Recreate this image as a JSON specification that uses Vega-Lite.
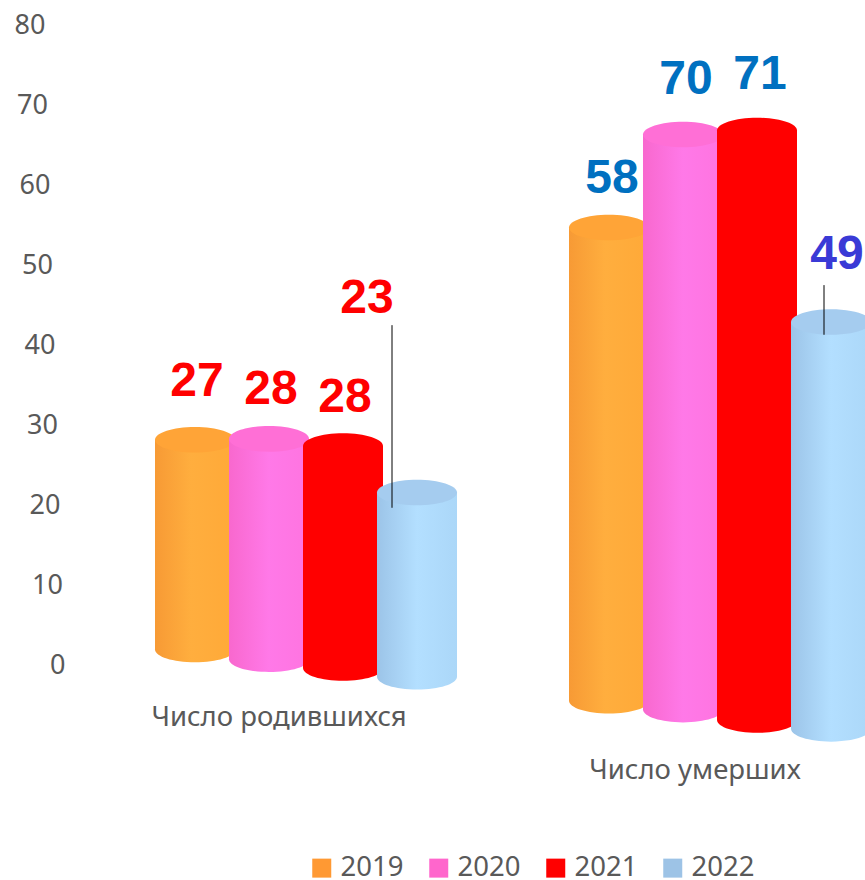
{
"$schema":"https://vega.github.io/schema/vega-lite/v6.json",
"autosize":{"type":"none"},
"padding":{"left":60,"top":24,"right":0,"bottom":15},
"width":805,"height":841,
"background":"white",
"config":{"view":{"stroke":null},"font":"Noto Sans"},
"data":{"values":[
{"group":"Число родившихся","year":"2019","value":27,"top":28.1,"base":1.9,"labelAt":35.5},
{"group":"Число родившихся","year":"2020","value":28,"top":28.2,"base":0.7,"labelAt":34.5},
{"group":"Число родившихся","year":"2021","value":28,"top":27.3,"base":-0.4,"labelAt":33.6},
{"group":"Число родившихся","year":"2022","value":23,"top":21.5,"base":-1.5,"labelAt":45.9,"leaderTop":42.4,"leaderEnd":19.6},
{"group":"Число умерших","year":"2019","value":58,"top":54.6,"base":-4.5,"labelAt":60.9},
{"group":"Число умерших","year":"2020","value":70,"top":66.2,"base":-5.6,"labelAt":73.3},
{"group":"Число умерших","year":"2021","value":71,"top":66.7,"base":-6.9,"labelAt":73.9},
{"group":"Число умерших","year":"2022","value":49,"top":42.8,"base":-8.0,"labelAt":51.4,"leaderTop":47.4,"leaderEnd":41.2}
]},
"encoding":{
"x":{"field":"group","type":"nominal","scale":{"domain":["Число родившихся","Число умерших"],"range":[39,867],"paddingInner":0,"paddingOuter":0},"axis":null},
"xOffset":{"field":"year","type":"nominal","scale":{"domain":["2019","2020","2021","2022"],"range":[59,355],"paddingInner":0,"paddingOuter":0}}
},
"layer":[
{"mark":{"type":"point","filled":true,"opacity":0,"size":100},"encoding":{"y":{"field":"base","type":"quantitative","scale":{"domain":[-25,80],"nice":false},"axis":{"values":[0,10,20,30,40,50,60,70,80],"title":null,"grid":false,"domain":false,"ticks":false,"labelPadding":-5,"labelFontSize":27,"labelColor":"#595959","labelFont":"Noto Sans","encoding":{"labels":{"dx":{"value":{"expr":"-0.25*datum.value"}},"dy":{"value":1}}}}},
"color":{"field":"year","type":"nominal","scale":{"domain":["2019","2020","2021","2022"],"range":["#FF9933","#FF66CC","#FF0000","#9DC3E6"]},
"legend":{"orient":"none","legendX":248,"legendY":830,"direction":"horizontal","title":null,"symbolType":"square","symbolSize":361,"symbolStrokeWidth":0,"labelFontSize":27.5,"labelColor":"#595959","labelFont":"Noto Sans","columnPadding":21,"labelOffset":5,"symbolOpacity":1}}}},
{"transform":[{"filter":"datum.year=='2019'"}],"layer":[
{"mark":{"type":"point","filled":true,"opacity":1,"size":6400,"fill":{"x1":0,"y1":0,"x2":1,"y2":0,"gradient":"linear","stops":[{"offset":0,"color":"#F79A35"},{"offset":0.45,"color":"#FFAE3E"},{"offset":1,"color":"#FFA938"}]},"shape":"M-1,0A1,0.32,0,1,1,1,0A1,0.32,0,1,1,-1,0Z"},"encoding":{"y":{"field":"base","type":"quantitative"}}},
{"mark":{"type":"bar","size":80,"fill":{"x1":0,"y1":0,"x2":1,"y2":0,"gradient":"linear","stops":[{"offset":0,"color":"#F79A35"},{"offset":0.45,"color":"#FFAE3E"},{"offset":1,"color":"#FFA938"}]}},"encoding":{"y":{"field":"top","type":"quantitative"},"y2":{"field":"base"}}},
{"mark":{"type":"point","filled":true,"opacity":1,"size":6400,"fill":"#FFA437","shape":"M-1,0A1,0.32,0,1,1,1,0A1,0.32,0,1,1,-1,0Z"},"encoding":{"y":{"field":"top","type":"quantitative"}}}
]},
{"transform":[{"filter":"datum.year=='2020'"}],"layer":[
{"mark":{"type":"point","filled":true,"opacity":1,"size":6400,"fill":{"x1":0,"y1":0,"x2":1,"y2":0,"gradient":"linear","stops":[{"offset":0,"color":"#F868CE"},{"offset":0.5,"color":"#FF79E8"},{"offset":1,"color":"#FF74E0"}]},"shape":"M-1,0A1,0.32,0,1,1,1,0A1,0.32,0,1,1,-1,0Z"},"encoding":{"y":{"field":"base","type":"quantitative"}}},
{"mark":{"type":"bar","size":80,"fill":{"x1":0,"y1":0,"x2":1,"y2":0,"gradient":"linear","stops":[{"offset":0,"color":"#F868CE"},{"offset":0.5,"color":"#FF79E8"},{"offset":1,"color":"#FF74E0"}]}},"encoding":{"y":{"field":"top","type":"quantitative"},"y2":{"field":"base"}}},
{"mark":{"type":"point","filled":true,"opacity":1,"size":6400,"fill":"#FF6FD6","shape":"M-1,0A1,0.32,0,1,1,1,0A1,0.32,0,1,1,-1,0Z"},"encoding":{"y":{"field":"top","type":"quantitative"}}}
]},
{"transform":[{"filter":"datum.year=='2021'"}],"layer":[
{"mark":{"type":"point","filled":true,"opacity":1,"size":6400,"fill":"#FF0000","shape":"M-1,0A1,0.32,0,1,1,1,0A1,0.32,0,1,1,-1,0Z"},"encoding":{"y":{"field":"base","type":"quantitative"}}},
{"mark":{"type":"bar","size":80,"fill":"#FF0000"},"encoding":{"y":{"field":"top","type":"quantitative"},"y2":{"field":"base"}}},
{"mark":{"type":"point","filled":true,"opacity":1,"size":6400,"fill":"#FF0000","shape":"M-1,0A1,0.32,0,1,1,1,0A1,0.32,0,1,1,-1,0Z"},"encoding":{"y":{"field":"top","type":"quantitative"}}}
]},
{"transform":[{"filter":"datum.year=='2022'"}],"layer":[
{"mark":{"type":"point","filled":true,"opacity":1,"size":6400,"fill":{"x1":0,"y1":0,"x2":1,"y2":0,"gradient":"linear","stops":[{"offset":0,"color":"#9CC4E8"},{"offset":0.5,"color":"#B3DFFF"},{"offset":1,"color":"#ABD7F8"}]},"shape":"M-1,0A1,0.32,0,1,1,1,0A1,0.32,0,1,1,-1,0Z"},"encoding":{"y":{"field":"base","type":"quantitative"}}},
{"mark":{"type":"bar","size":80,"fill":{"x1":0,"y1":0,"x2":1,"y2":0,"gradient":"linear","stops":[{"offset":0,"color":"#9CC4E8"},{"offset":0.5,"color":"#B3DFFF"},{"offset":1,"color":"#ABD7F8"}]}},"encoding":{"y":{"field":"top","type":"quantitative"},"y2":{"field":"base"}}},
{"mark":{"type":"point","filled":true,"opacity":1,"size":6400,"fill":"#A5CCEF","shape":"M-1,0A1,0.32,0,1,1,1,0A1,0.32,0,1,1,-1,0Z"},"encoding":{"y":{"field":"top","type":"quantitative"}}}
]},
{"transform":[{"filter":"datum.value==23"}],"mark":{"type":"rule","color":"#000000","strokeWidth":1},"encoding":{"xOffset":{"value":293},"y":{"field":"leaderTop","type":"quantitative"},"y2":{"field":"leaderEnd"}}},
{"transform":[{"filter":"datum.value==49"}],"mark":{"type":"rule","color":"#000000","strokeWidth":1},"encoding":{"xOffset":{"value":311},"y":{"field":"leaderTop","type":"quantitative"},"y2":{"field":"leaderEnd"}}},
{"transform":[{"filter":"datum.value<=28 && datum.value!=23"}],"mark":{"type":"text","font":"Liberation Sans","fontWeight":"bold","fontSize":48,"color":"#FF0000","dy":2,"dx":2},"encoding":{"y":{"field":"labelAt","type":"quantitative"},"text":{"field":"value","type":"quantitative"}}},
{"transform":[{"filter":"datum.value==23"}],"mark":{"type":"text","font":"Liberation Sans","fontWeight":"bold","fontSize":48,"color":"#FF0000","dx":-50,"dy":2},"encoding":{"y":{"field":"labelAt","type":"quantitative"},"text":{"field":"value","type":"quantitative"}}},
{"transform":[{"filter":"datum.value>=58"}],"mark":{"type":"text","font":"Liberation Sans","fontWeight":"bold","fontSize":48,"color":"#0070C0","dy":2,"dx":3},"encoding":{"y":{"field":"labelAt","type":"quantitative"},"text":{"field":"value","type":"quantitative"}}},
{"transform":[{"filter":"datum.value==49"}],"mark":{"type":"text","font":"Liberation Sans","fontWeight":"bold","fontSize":48,"color":"#3A3AD6","dx":6,"dy":2},"encoding":{"y":{"field":"labelAt","type":"quantitative"},"text":{"field":"value","type":"quantitative"}}},
{"transform":[{"filter":"datum.value==27"}],"mark":{"type":"text","fontSize":27.5,"color":"#595959","font":"Noto Sans","dx":180,"dy":1},"encoding":{"xOffset":{"value":null},"x":{"field":"group","type":"nominal"},"y":{"datum":-6.5},"text":{"field":"group"}}},
{"transform":[{"filter":"datum.value==58"}],"mark":{"type":"text","fontSize":27.5,"color":"#595959","font":"Noto Sans","dx":182,"dy":1},"encoding":{"xOffset":{"value":null},"x":{"field":"group","type":"nominal"},"y":{"datum":-13.1},"text":{"field":"group"}}}
]
}
